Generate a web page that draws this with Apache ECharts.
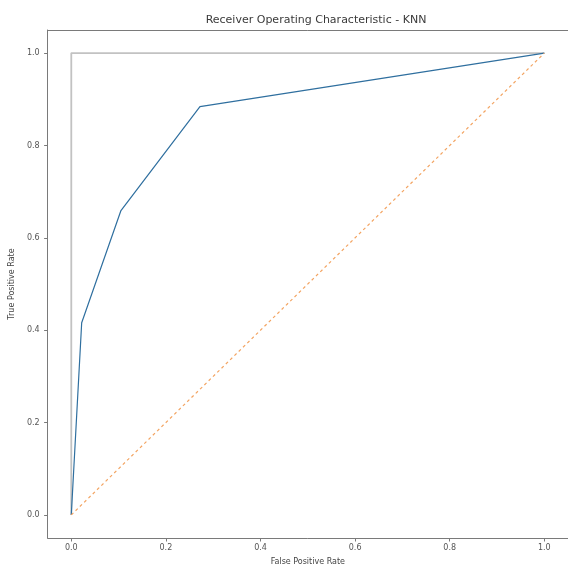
<!DOCTYPE html>
<html>
<head>
<meta charset="utf-8">
<script src="https://cdn.jsdelivr.net/npm/echarts@6/dist/echarts.min.js"></script>
<style>
html,body{margin:0;padding:0;background:#fff;}
#main{width:568px;height:571px;}
</style>
</head>
<body>
<div id="main"></div>
<script>
const titleText = "Receiver Operating Characteristic - KNN";
const xLabel = "False Positive Rate";
const yLabel = "True Positive Rate";
const tickValues = [0, 0.2, 0.4, 0.6, 0.8, 1.0];
const fpr = [0, 0.022, 0.105, 0.272, 1.0];
const tpr = [0, 0.416, 0.659, 0.884, 1.0];
const diagX = [0, 1];
const diagY = [0, 1];
const perfectX = [0, 0, 1];
const perfectY = [0, 1, 1];

const zip = (a, b) => a.map((v, i) => [v, b[i]]);
const font = "DejaVu Sans";
const chart = echarts.init(document.getElementById('main'), null, {renderer: 'canvas'});
const axisCommon = {
  type: 'value', min: -0.05, max: 1.05,
  splitLine: {show: false},
  axisLine: {show: true, onZero: false, lineStyle: {color: '#7a7a7a', width: 1}},
  axisTick: {show: true, customValues: tickValues, length: 3.5, lineStyle: {color: '#7a7a7a'}},
  axisLabel: {show: true, customValues: tickValues, formatter: v => v.toFixed(1),
              color: '#555', fontFamily: font, fontSize: 8},
  nameLocation: 'middle',
  nameTextStyle: {color: '#444', fontFamily: font, fontSize: 8}
};
chart.setOption({
  animation: false,
  backgroundColor: '#fff',
  title: {text: titleText, left: 311, top: 10, textAlign: 'center',
          textStyle: {color: '#3a3a3a', fontFamily: font, fontSize: 11, fontWeight: 'normal'}},
  grid: {left: 47, top: 30, width: 530, height: 513, containLabel: false},
  xAxis: [
    Object.assign({}, axisCommon, {position: 'bottom', name: xLabel, nameGap: 20,
      axisLabel: Object.assign({}, axisCommon.axisLabel, {margin: 6})}),
    {type: 'value', min: -0.05, max: 1.05, position: 'top', splitLine: {show: false},
     axisLine: {show: true, onZero: false, lineStyle: {color: '#7a7a7a', width: 1}},
     axisTick: {show: false}, axisLabel: {show: false}}
  ],
  yAxis: [
    Object.assign({}, axisCommon, {position: 'left', name: yLabel, nameGap: 29,
      axisLabel: Object.assign({}, axisCommon.axisLabel, {margin: 8})})
  ],
  series: [
    {type: 'line', data: zip(perfectX, perfectY), symbol: 'none',
     lineStyle: {color: '#c2c2c2', width: 1.8}, z: 1},
    {type: 'line', data: zip(fpr, tpr), symbol: 'none',
     lineStyle: {color: '#2f6f9f', width: 1.2}, z: 2},
    {type: 'line', data: zip(diagX, diagY), symbol: 'none',
     lineStyle: {color: '#f3a462', width: 1.2, type: [3, 3]}, z: 3}
  ]
});
</script>
</body>
</html>
